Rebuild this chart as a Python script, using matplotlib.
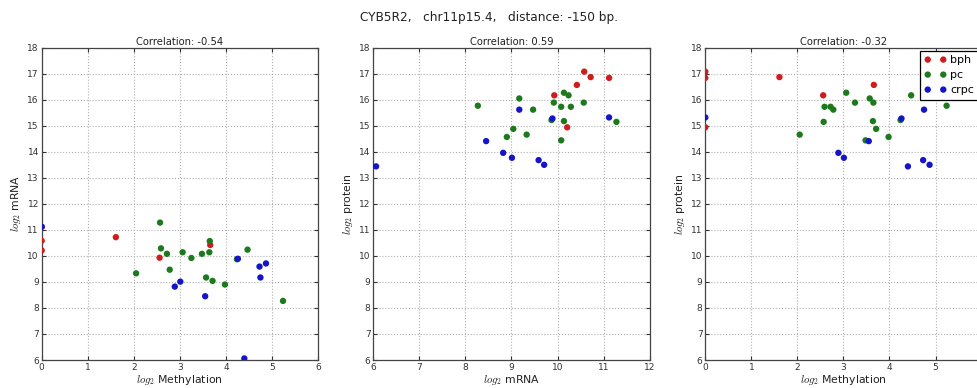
import matplotlib
matplotlib.use("Agg")
import matplotlib.pyplot as plt

plt.rcParams['mathtext.fontset'] = 'cm'
plt.rcParams['font.family'] = 'DejaVu Sans'

# values (one entry per sample)
bph_meth = [0.0, 0.0, 0.0, 1.61, 2.56, 3.66]
bph_mrna = [10.58, 11.12, 10.21, 10.72, 9.93, 10.42]
bph_prot = [17.08, 16.84, 14.94, 16.87, 16.17, 16.57]

pc_meth = [2.57, 2.59, 2.72, 2.78, 3.06, 3.25, 3.48, 3.64, 3.65, 3.57, 3.71, 3.98, 4.47, 5.24, 2.05, 4.24]
pc_mrna = [11.28, 10.29, 10.08, 9.47, 10.14, 9.92, 10.08, 10.14, 10.57, 9.17, 9.04, 8.90, 10.24, 8.27, 9.33, 9.87]
pc_prot = [15.15, 15.73, 15.73, 15.62, 16.27, 15.89, 14.44, 15.18, 15.89, 16.05, 14.88, 14.57, 16.17, 15.77, 14.66, 15.22]

crpc_meth = [4.40, 3.55, 2.89, 3.01, 4.75, 4.73, 4.87, 4.26, 0.0]
crpc_mrna = [6.06, 8.45, 8.82, 9.01, 9.17, 9.59, 9.71, 9.89, 11.12]
crpc_prot = [13.44, 14.41, 13.96, 13.77, 15.62, 13.68, 13.50, 15.28, 15.32]

gene_title = 'CYB5R2,   chr11p15.4,   distance: -150 bp.'
corr_titles = ['Correlation: -0.54', 'Correlation: 0.59', 'Correlation: -0.32']
x_labels = ['$log_2$ Methylation', '$log_2$ mRNA', '$log_2$ Methylation']
y_labels = ['$log_2$ mRNA', '$log_2$ protein', '$log_2$ protein']
x_ranges = [(0, 6), (6, 12), (0, 6)]

groups = [
    ('bph', '#d01c1c', {'meth': bph_meth, 'mrna': bph_mrna, 'prot': bph_prot}),
    ('pc', '#1c7a1c', {'meth': pc_meth, 'mrna': pc_mrna, 'prot': pc_prot}),
    ('crpc', '#1414c8', {'meth': crpc_meth, 'mrna': crpc_mrna, 'prot': crpc_prot}),
]
pairs = [('meth', 'mrna'), ('mrna', 'prot'), ('meth', 'prot')]

W, H = 977, 388
fig = plt.figure(figsize=(W / 100, H / 100), dpi=100)
lefts = [41.7, 373.3, 705.3]
ax_w, ax_top, ax_bot = 276.3, 47.7, 360.0

for k in range(3):
    ax = fig.add_axes([lefts[k] / W, (H - ax_bot) / H, ax_w / W, (ax_bot - ax_top) / H])
    xk, yk = pairs[k]
    for name, col, d in groups:
        ax.scatter(d[xk], d[yk], s=21, c=col, edgecolors='none', label=name, zorder=3)
    ax.set_xlim(*x_ranges[k])
    ax.set_ylim(6, 18)
    if k == 2:
        # right edge of the last panel falls outside the image, its "6" is not shown
        ax.set_xticks(range(0, 6))
    else:
        ax.set_xticks(range(x_ranges[k][0], x_ranges[k][1] + 1))
    ax.set_yticks(range(6, 19))
    ax.grid(True, color='#b0b0b0', linestyle=':', linewidth=0.8)
    ax.tick_params(direction='in', top=True, right=True, length=3, labelsize=6.5,
                   colors='#333333', pad=2)
    for sp in ax.spines.values():
        sp.set_color('#444444')
        sp.set_linewidth(0.9)
    ax.set_title(corr_titles[k], fontsize=7.2, pad=2, color='#222222')
    ax.set_xlabel(x_labels[k], fontsize=7.8, labelpad=1, color='#222222')
    ax.set_ylabel(y_labels[k], fontsize=7.8, labelpad=3, color='#222222')
    if k == 2:
        leg = ax.legend(loc='upper right', scatterpoints=2, scatteryoffsets=[0.5],
                        fontsize=8, fancybox=False, framealpha=1, borderaxespad=0.3,
                        handletextpad=0.3, labelspacing=0.45)
        leg.get_frame().set_edgecolor('black')
        leg.get_frame().set_linewidth(0.9)

fig.text(0.5, 1 - 18 / H, gene_title, ha='center', va='center', fontsize=8.7, color='#222222')

fig.savefig('out.png', dpi=100)
